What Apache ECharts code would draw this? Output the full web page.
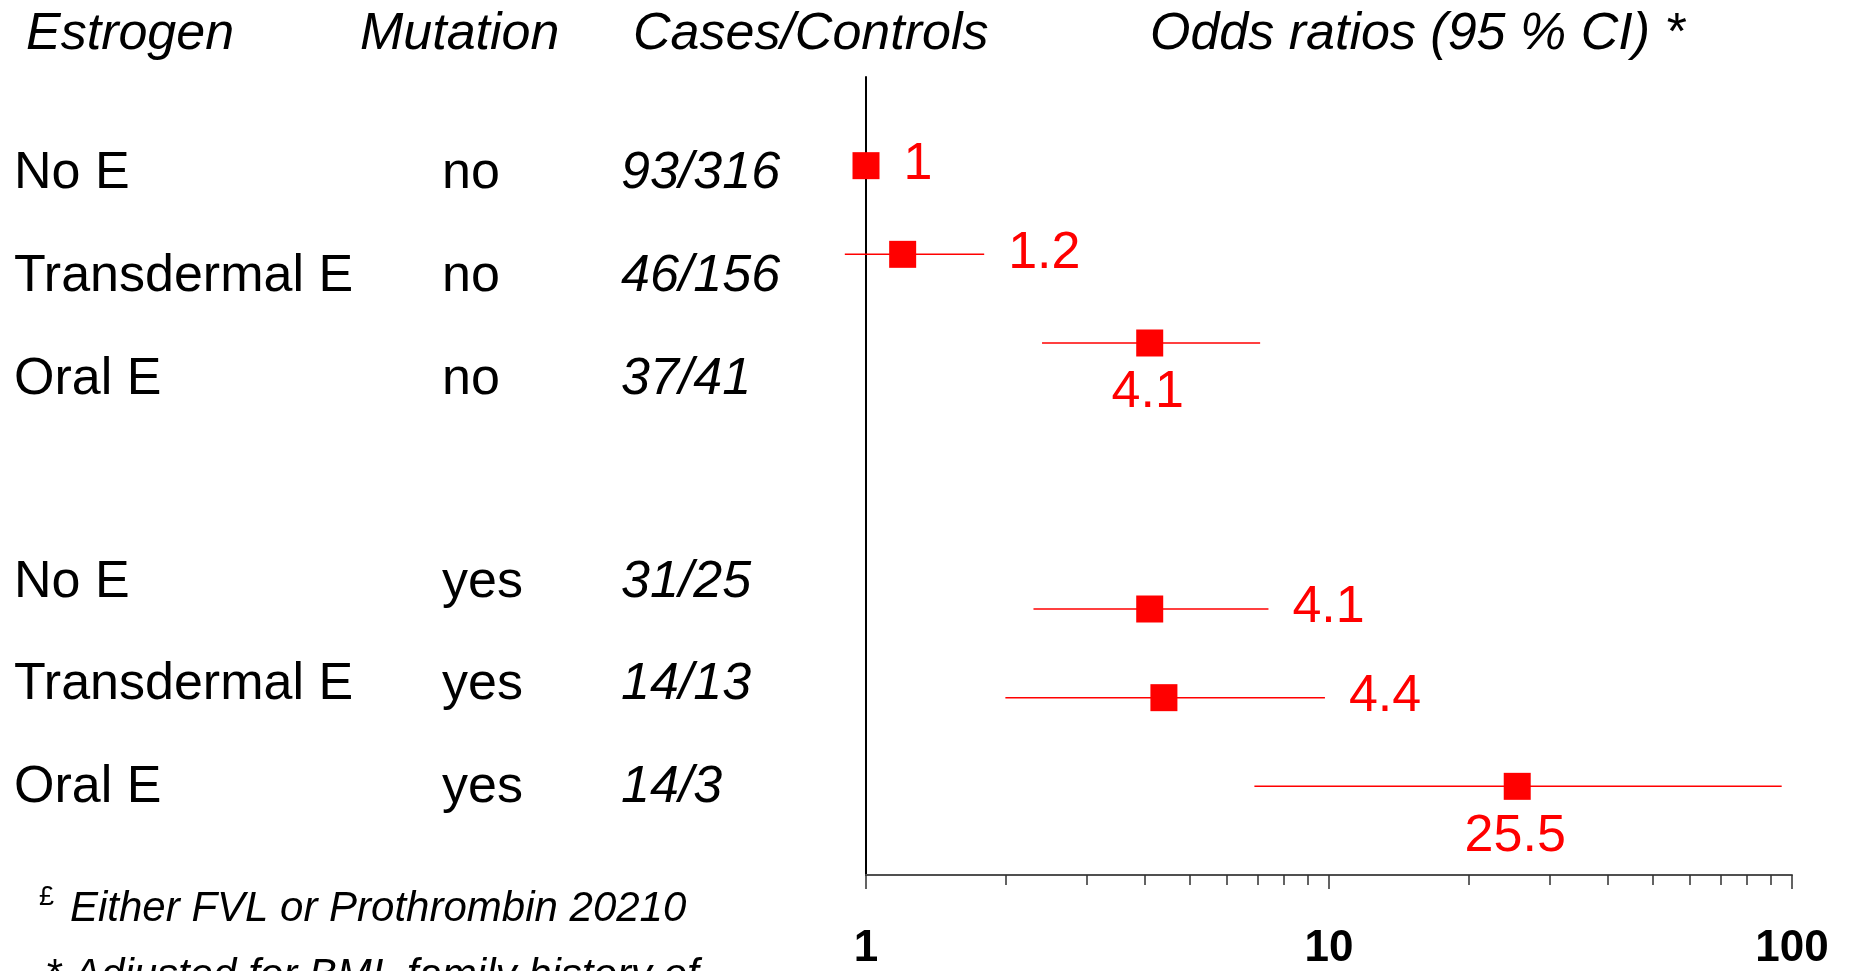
<!DOCTYPE html>
<html>
<head>
<meta charset="utf-8">
<script src="https://cdn.jsdelivr.net/npm/echarts@6/dist/echarts.min.js"></script>
<style>
html,body{margin:0;padding:0;background:#fff;}
#chart{width:1849px;height:971px;}
</style>
</head>
<body>
<div id="chart"></div>
<script>
// ---- data ----
const headers = ['Estrogen', 'Mutation', 'Cases/Controls', 'Odds ratios (95 % CI) *'];
const estrogen = ['No E', 'Transdermal E', 'Oral E', 'No E', 'Transdermal E', 'Oral E'];
const mutation = ['no', 'no', 'no', 'yes', 'yes', 'yes'];
const casesControls = ['93/316', '46/156', '37/41', '31/25', '14/13', '14/3'];
const oddsRatio = [1, 1.2, 4.1, 4.1, 4.4, 25.5];
const ciLow = [null, 0.9, 2.4, 2.3, 2.0, 6.9];
const ciHigh = [null, 1.8, 7.1, 7.4, 9.8, 95];
const rowSlot = [0, 1, 2, 5, 6, 7];
const labelBelow = [false, false, true, false, false, true];
const majorTicks = [1, 10, 100];
const minorTicks = [2, 3, 4, 5, 6, 7, 8, 9, 20, 30, 40, 50, 60, 70, 80, 90];
const footnotes = ['Either FVL or Prothrombin 20210', '* Adjusted for BMI, family history of'];

// ---- layout / style ----
const FONT = '"Liberation Sans", Arial, sans-serif';
const RED = '#ff0000';
const textRowY = [173.5, 276.5, 379.5, 582.5, 684.5, 787.5];
const colX = [14, 442, 621];
const headerX = [26, 360, 633, 1150];

const chart = echarts.init(document.getElementById('chart'));

const graphics = [];
headers.forEach((h, i) => {
  graphics.push({type: 'text', x: headerX[i], y: 34.5,
    style: {text: h, font: 'italic 52px ' + FONT, fill: '#000', align: 'left', verticalAlign: 'middle'}});
});
estrogen.forEach((t, i) => {
  graphics.push({type: 'text', x: colX[0], y: textRowY[i],
    style: {text: t, font: '52px ' + FONT, fill: '#000', align: 'left', verticalAlign: 'middle'}});
  graphics.push({type: 'text', x: colX[1], y: textRowY[i],
    style: {text: mutation[i], font: '52px ' + FONT, fill: '#000', align: 'left', verticalAlign: 'middle'}});
  graphics.push({type: 'text', x: colX[2], y: textRowY[i],
    style: {text: casesControls[i], font: 'italic 52px ' + FONT, fill: '#000', align: 'left', verticalAlign: 'middle'}});
});
graphics.push({type: 'text', x: 39, y: 898,
  style: {text: '£', font: '27px ' + FONT, fill: '#000', align: 'left', verticalAlign: 'middle'}});
graphics.push({type: 'text', x: 70, y: 909,
  style: {text: footnotes[0], font: 'italic 42px ' + FONT, fill: '#000', align: 'left', verticalAlign: 'middle'}});
graphics.push({type: 'text', x: 45, y: 976,
  style: {text: footnotes[1], font: 'italic 42px ' + FONT, fill: '#000', align: 'left', verticalAlign: 'middle'}});

const data = oddsRatio.map((v, i) => [v, ciLow[i] == null ? NaN : ciLow[i], ciHigh[i] == null ? NaN : ciHigh[i], rowSlot[i]]);

const SQ = 27;
function renderItem(params, api) {
  const i = params.dataIndex;
  const orv = api.value(0), lo = api.value(1), hi = api.value(2), slot = api.value(3);
  const p = api.coord([orv, slot]);
  const children = [];
  let rightEdge = p[0] + SQ / 2;
  if (isFinite(lo) && isFinite(hi)) {
    const a = api.coord([lo, slot]);
    const b = api.coord([hi, slot]);
    children.push({type: 'line', shape: {x1: a[0], y1: p[1], x2: b[0], y2: p[1]},
      style: {stroke: RED, lineWidth: 1.5}});
    rightEdge = b[0];
  }
  children.push({type: 'rect', shape: {x: p[0] - SQ / 2, y: p[1] - SQ / 2, width: SQ, height: SQ},
    style: {fill: RED}});
  const txt = String(oddsRatio[i]);
  if (labelBelow[i]) {
    children.push({type: 'text', x: p[0] - 2, y: p[1] + 50,
      style: {text: txt, font: '52px ' + FONT, fill: RED, align: 'center', verticalAlign: 'middle'}});
  } else {
    children.push({type: 'text', x: rightEdge + 24, y: p[1] - 1,
      style: {text: txt, font: '52px ' + FONT, fill: RED, align: 'left', verticalAlign: 'middle'}});
  }
  return {type: 'group', children: children};
}

const option = {
  animation: false,
  backgroundColor: '#fff',
  grid: {left: 866, right: 57, top: 77, bottom: 93, containLabel: false},
  xAxis: [
    {
      type: 'log', logBase: 10, min: 1, max: 100, position: 'bottom',
      axisLine: {show: true, onZero: false, lineStyle: {color: '#505050', width: 2}},
      axisTick: {show: true, customValues: minorTicks, length: 10, lineStyle: {color: '#303030', width: 1.5}},
      axisLabel: {show: false},
      splitLine: {show: false}
    },
    {
      type: 'log', logBase: 10, min: 1, max: 100, position: 'bottom',
      axisLine: {show: false, onZero: false},
      axisTick: {show: true, customValues: majorTicks, length: 14, lineStyle: {color: '#303030', width: 1.5}},
      axisLabel: {show: true, customValues: majorTicks, margin: 74, verticalAlign: 'middle',
        fontSize: 44, fontWeight: 'bold', fontFamily: FONT, color: '#000',
        formatter: v => String(v)},
      splitLine: {show: false}
    }
  ],
  yAxis: {
    type: 'value', min: -1, max: 8, inverse: true,
    axisLine: {show: true, onZero: false, lineStyle: {color: '#000', width: 2}},
    axisTick: {show: false}, axisLabel: {show: false}, splitLine: {show: false}
  },
  graphic: graphics,
  series: [{
    type: 'custom',
    xAxisIndex: 0,
    clip: false,
    renderItem: renderItem,
    dimensions: ['or', 'lo', 'hi', 'slot'],
    encode: {x: 0, y: 3},
    data: data
  }]
};
chart.setOption(option);
</script>
</body>
</html>
